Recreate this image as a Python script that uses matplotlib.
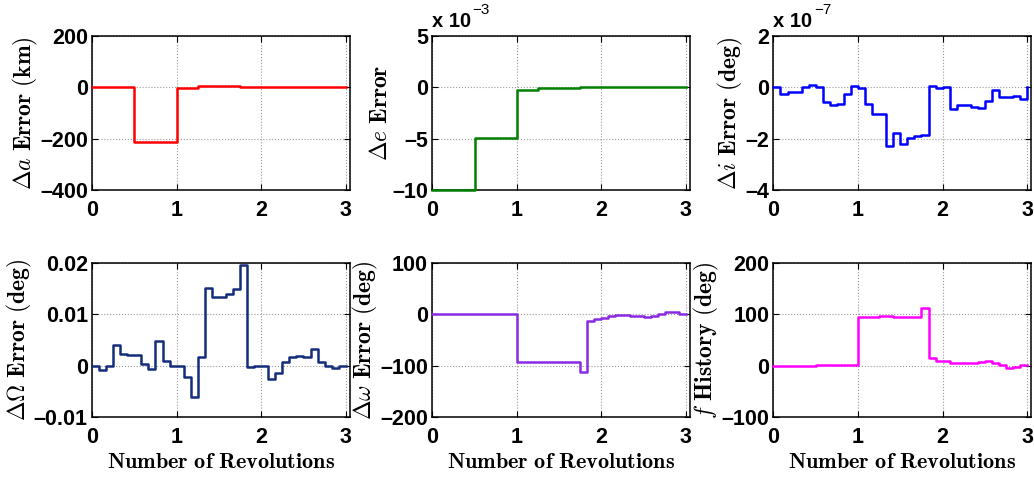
import numpy as np
import matplotlib
matplotlib.use("Agg")
import matplotlib.pyplot as plt

plt.rcParams["mathtext.fontset"] = "cm"
plt.rcParams["font.family"] = "Liberation Sans"

# step edges: one update every 1/12 revolution, 0..3 revs
revs = np.arange(37) / 12.0

# values held over each 1/12 rev interval (last entry = value at 3 revs)
da_km = [0, 0, 0, 0, 0, 0,
         -213, -213, -213, -213, -213, -213,
         -3, -3, -3, 4, 4, 4, 4, 4, 4,
         0, 0, 0, 0, 0, 0, 0, 0, 0, 0, 0, 0, 0, 0, 0, 0]

de_e3 = [-10, -10, -10, -10, -10, -10,
         -4.9, -4.9, -4.9, -4.9, -4.9, -4.9,
         -0.25, -0.25, -0.25, -0.1, -0.1, -0.1, -0.1, -0.1, -0.1,
         0, 0, 0, 0, 0, 0, 0, 0, 0, 0, 0, 0, 0, 0, 0, 0]

di_e7 = [0.0, -0.26, -0.17, -0.17, 0.03, 0.09, 0.01, -0.56, -0.67, -0.65,
         -0.27, 0.04, -0.04, -0.63, -1.05, -1.02, -2.29, -1.76, -2.22, -1.97,
         -1.88, -1.87, 0.04, -0.03, 0.0, -0.85, -0.69, -0.68, -0.78, -0.82,
         -0.54, -0.10, -0.37, -0.37, -0.34, -0.44, 0.0]

dOmega = [0.0, -0.0008, 0.0, 0.0041, 0.0023, 0.0021, 0.0021, 0.0003, -0.0007,
          0.0049, 0.0010, 0.0, 0.0, -0.0021, -0.0060, 0.0017, 0.0151, 0.0133,
          0.0133, 0.0140, 0.0150, 0.0197, -0.0003, 0.0, 0.0, -0.0026, -0.0014,
          0.0007, 0.0018, 0.0019, 0.0018, 0.0033, 0.0008, -0.0001, -0.0005,
          0.0, 0.0]

domega = [1, 1, 1, 1, 1, 1, 0, 0, 0, 0, 0, 0,
          -92, -92, -93, -93, -93, -93, -93, -93, -93, -113,
          -13, -8, -7, -3, -2, -2, -3, -4, -6, -3, 1, 4, 4, 1, 0]

f_hist = [0, 0, 0, 0, 0.5, 0.5, 1, 1, 1.5, 1.5, 2, 2,
          94, 95, 95.5, 96, 96, 95.5, 95, 94.5, 94, 113,
          15, 10, 10, 6, 6, 6, 6, 8, 9, 5, 1, -4, -2, 1, 2]

panels = [
    (da_km, "#ff0000", (-400, 200), [-400, -200, 0, 200],
     r"$\mathbf{\Delta} a\ \mathbf{Error\ (km)}$", None),
    (de_e3, "#008000", (-10, 5), [-10, -5, 0, 5],
     r"$\mathbf{\Delta} e\ \mathbf{Error}$", "-3"),
    (di_e7, "#0000ff", (-4, 2), [-4, -2, 0, 2],
     r"$\mathbf{\Delta} i\ \mathbf{Error\ (deg)}$", "-7"),
    (dOmega, "#142d7a", (-0.01, 0.02), [-0.01, 0, 0.01, 0.02],
     r"$\mathbf{\Delta\Omega}\ \mathbf{Error\ (deg)}$", None),
    (domega, "#8a2be2", (-200, 100), [-200, -100, 0, 100],
     r"$\mathbf{\Delta}\omega\ \mathbf{Error\ (deg)}$", None),
    (f_hist, "#ff00ff", (-100, 200), [-100, 0, 100, 200],
     r"$f\ \mathbf{History\ (deg)}$", None),
]

fig = plt.figure(figsize=(10.34, 4.8), dpi=100)
lefts = [0.089, 0.418, 0.748]
bottoms = [0.604, 0.131]
w, h = 0.2495, 0.321

for k, (vals, col, ylim, yt, ylab, scale) in enumerate(panels):
    row, c = divmod(k, 3)
    ax = fig.add_axes([lefts[c], bottoms[row], w, h])
    ax.plot(revs, vals, drawstyle="steps-post", color=col, lw=1.8, zorder=3,
            clip_on=False)
    ax.set_xlim(0, 3.05)
    ax.set_ylim(*ylim)
    ax.set_xticks([0, 1, 2, 3])
    ax.set_yticks(yt)
    ax.set_yticklabels(["0" if v == 0 else f"{v:g}".replace("-", "\u2013") for v in yt])
    ax.tick_params(direction="in", top=True, right=True, length=4, width=0.8,
                   labelsize=15.5, pad=3)
    ax.tick_params(axis="x", pad=7)
    for lab in ax.get_xticklabels() + ax.get_yticklabels():
        lab.set_fontweight("bold")
    ax.grid(True, linestyle=":", color="#999999", lw=0.8)
    for s in ax.spines.values():
        s.set_linewidth(1.1)
    ax.set_ylabel(ylab, fontsize=17, labelpad=0)
    if row == 1:
        ax.set_xlabel(r"$\mathbf{Number\ of\ Revolutions}$", fontsize=16, labelpad=3)
    if scale:
        t = ax.text(0.0, 1.03, "x 10", transform=ax.transAxes, fontsize=14.5,
                    fontweight="bold", ha="left", va="bottom")
        ax.annotate(scale.replace("-", "\u2212"), xy=(1, 1), xycoords=t,
                    xytext=(1, -3), textcoords="offset points",
                    fontsize=11, ha="left", va="bottom")

fig.savefig("out.png", dpi=100)
